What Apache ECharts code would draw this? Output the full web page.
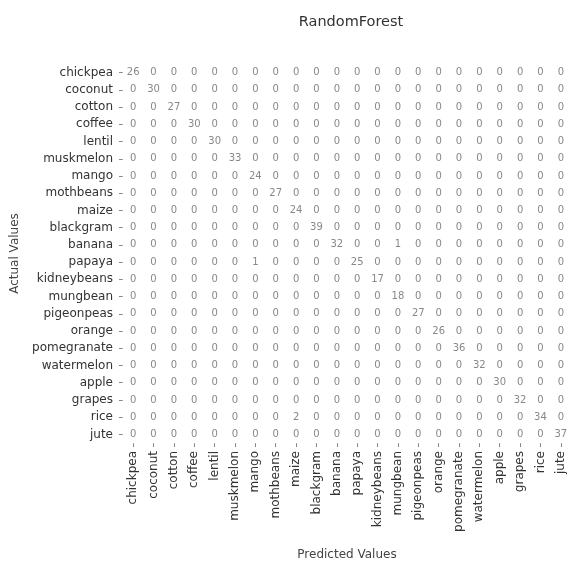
<!DOCTYPE html>
<html>
<head>
<meta charset="utf-8">
<script src="https://cdn.jsdelivr.net/npm/echarts@6/dist/echarts.min.js"></script>
<style>
  html, body { margin: 0; padding: 0; background: #ffffff; }
  #chart { width: 573px; height: 566px; }
</style>
</head>
<body>
<div id="chart"></div>
<script>
// Crop classes, in the order used for both axes
const classes = ['chickpea', 'coconut', 'cotton', 'coffee', 'lentil', 'muskmelon', 'mango',
  'mothbeans', 'maize', 'blackgram', 'banana', 'papaya', 'kidneybeans', 'mungbean',
  'pigeonpeas', 'orange', 'pomegranate', 'watermelon', 'apple', 'grapes', 'rice', 'jute'];

// Correct predictions per class (diagonal of the confusion matrix)
const diagonal = [26, 30, 27, 30, 30, 33, 24, 27, 24, 39, 32, 25, 17, 18, 27, 26, 36, 32, 30, 32, 34, 37];

// Misclassifications: [actual, predicted, count]
const offDiagonal = [
  ['banana', 'mungbean', 1],
  ['papaya', 'mango', 1],
  ['rice', 'maize', 2]
];

// Full matrix as [predictedIndex, actualIndex, count]
const cells = [];
for (let a = 0; a < classes.length; a++) {
  for (let p = 0; p < classes.length; p++) {
    let v = a === p ? diagonal[a] : 0;
    offDiagonal.forEach(function (o) {
      if (o[0] === classes[a] && o[1] === classes[p]) v = o[2];
    });
    cells.push([p, a, v]);
  }
}

const font = 'DejaVu Sans';
const chart = echarts.init(document.getElementById('chart'), null, { renderer: 'canvas' });
chart.setOption({
  backgroundColor: '#ffffff',
  animation: false,
  title: {
    text: 'RandomForest',
    left: 346, top: 10, textAlign: 'center',
    textStyle: { fontFamily: font, fontSize: 14.5, fontWeight: 'normal', color: '#333' }
  },
  grid: { left: 123, right: 2, top: 64, bottom: 117, containLabel: false },
  xAxis: {
    type: 'category', data: classes, position: 'bottom',
    name: 'Predicted Values', nameLocation: 'middle', nameGap: 106,
    nameTextStyle: { fontFamily: font, fontSize: 12, color: '#444' },
    axisLine: { show: false },
    axisTick: { show: true, length: 4, alignWithLabel: true, lineStyle: { color: '#888' } },
    axisLabel: { rotate: 90, interval: 0, fontFamily: font, fontSize: 12, color: '#333', margin: 8 },
    splitLine: { show: false }
  },
  yAxis: {
    type: 'category', data: classes, inverse: true,
    name: 'Actual Values', nameLocation: 'middle', nameGap: 102, nameRotate: 90,
    nameTextStyle: { fontFamily: font, fontSize: 12, color: '#444' },
    axisLine: { show: false },
    axisTick: { show: true, length: 4, alignWithLabel: true, lineStyle: { color: '#888' } },
    axisLabel: { interval: 0, fontFamily: font, fontSize: 12, color: '#333', margin: 10 },
    splitLine: { show: false }
  },
  visualMap: {
    show: false, min: 0, max: 39, dimension: 2,
    inRange: { color: ['#ffffff', '#ffffff'] }
  },
  series: [{
    type: 'heatmap',
    data: cells,
    label: {
      show: true, fontFamily: font, fontSize: 10, color: '#888',
      formatter: function (p) { return p.value[2]; }
    },
    emphasis: { disabled: true }
  }]
});
</script>
</body>
</html>
